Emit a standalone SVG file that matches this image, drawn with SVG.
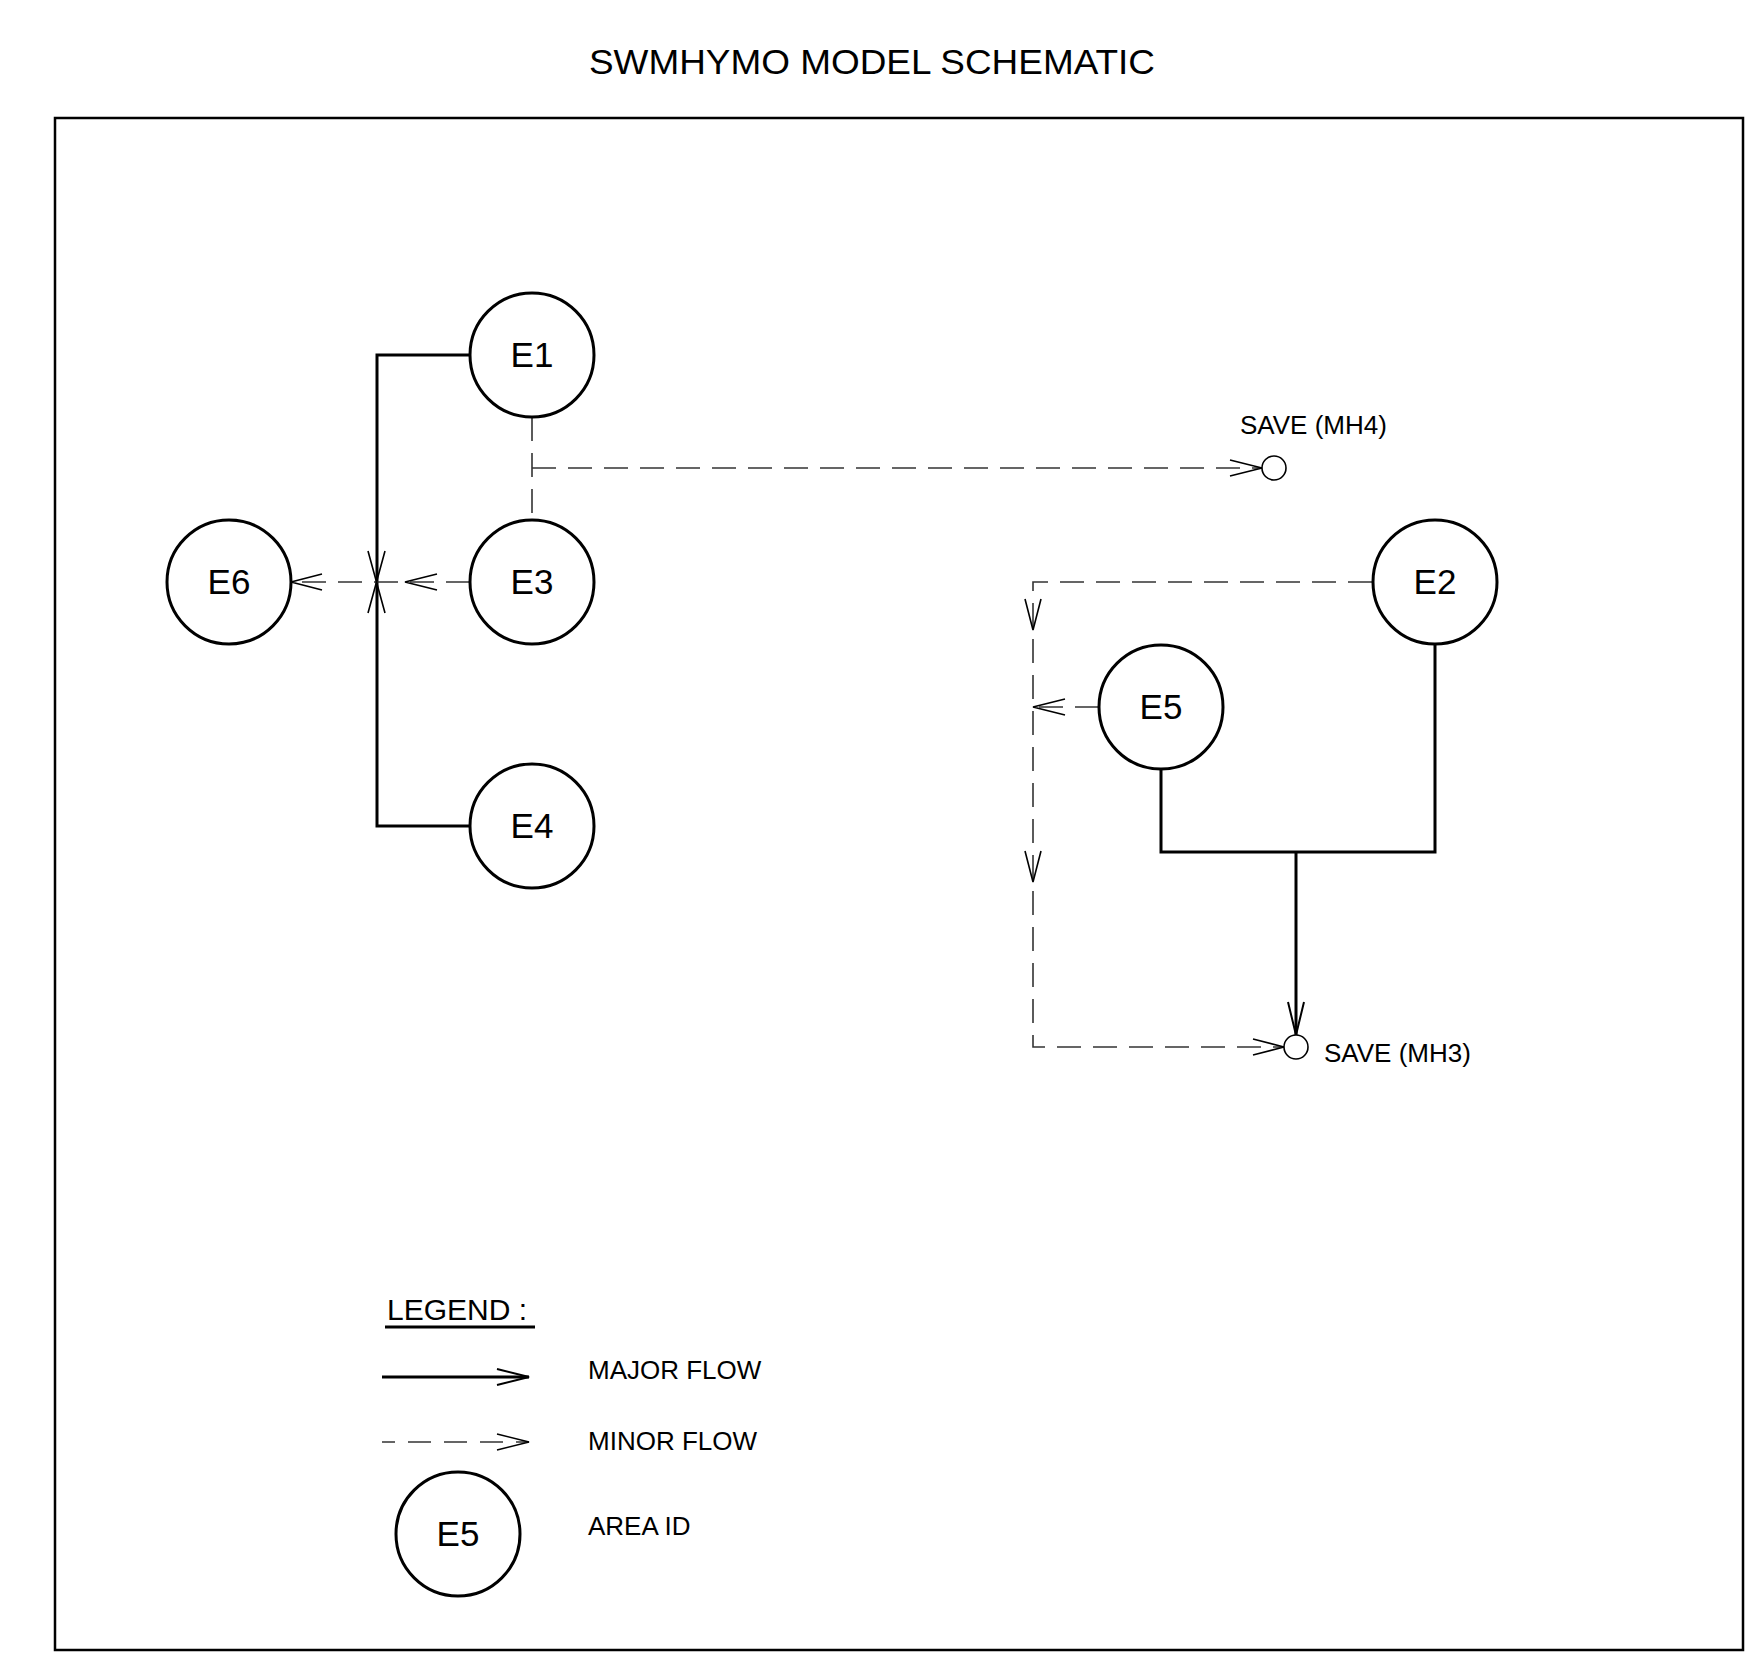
<svg xmlns="http://www.w3.org/2000/svg" width="1752" height="1659" viewBox="0 0 1752 1659">
<style>
text{font-family:"Liberation Sans",Arial,sans-serif;fill:#000}
.node circle{fill:#fff;stroke:#000;stroke-width:3}
.node text{font-size:35px;text-anchor:middle}
.major{fill:none;stroke:#000;stroke-width:3;stroke-linejoin:miter}
.minor{fill:none;stroke:#333;stroke-width:1.6;stroke-dasharray:24 12}
.ah{fill:none;stroke:#000;stroke-width:1.6}
.ahm{fill:none;stroke:#000;stroke-width:2}
.save{fill:#fff;stroke:#000;stroke-width:1.6}
.lbl{font-size:26px}
</style>
<rect width="1752" height="1659" fill="#fff"/>
<text x="589" y="74" font-size="35" textLength="566" lengthAdjust="spacingAndGlyphs">SWMHYMO MODEL SCHEMATIC</text>
<rect x="55" y="118" width="1688" height="1532" fill="none" stroke="#000" stroke-width="2.5"/>

<g id="connectors">
  <!-- major flows -->
  <path class="major" d="M470,355 H377 V826 H470"/>
  <path class="major" d="M1161,769 V852 H1435 V645"/>
  <path class="major" d="M1296,852 V1035"/>
  <path class="ahm" d="M1288,1002 L1296,1035 L1304,1002"/>
  <!-- minor flows -->
  <path class="minor" d="M532,417 V520"/>
  <path class="minor" d="M532,468 H1262"/>
  <path class="ah" d="M1230,460 L1262,468 L1230,476"/>
  <path class="minor" d="M470,582 H291"/>
  <path class="ah" d="M437,574 L405,582 L437,590"/>
  <path class="ah" d="M322,574 L291,582 L322,590"/>
  <path class="ah" d="M368,551 L385,613 M385,551 L368,613"/>
  <path class="minor" d="M1372,582 H1033 V1047 H1284"/>
  <path class="ah" d="M1025,599 L1033,630 L1041,599"/>
  <path class="ah" d="M1025,851 L1033,882 L1041,851"/>
  <path class="ah" d="M1253,1039 L1284,1047 L1253,1055"/>
  <path class="minor" d="M1099,707 H1033"/>
  <path class="ah" d="M1065,699 L1033,707 L1065,715"/>
</g>

<g id="E1" class="node"><circle cx="532" cy="355" r="62"/><text x="532" y="367">E1</text></g>
<g id="E3" class="node"><circle cx="532" cy="582" r="62"/><text x="532" y="594">E3</text></g>
<g id="E4" class="node"><circle cx="532" cy="826" r="62"/><text x="532" y="838">E4</text></g>
<g id="E6" class="node"><circle cx="229" cy="582" r="62"/><text x="229" y="594">E6</text></g>
<g id="E2" class="node"><circle cx="1435" cy="582" r="62"/><text x="1435" y="594">E2</text></g>
<g id="E5" class="node"><circle cx="1161" cy="707" r="62"/><text x="1161" y="719">E5</text></g>

<g id="MH4"><circle class="save" cx="1274" cy="468" r="12"/><text class="lbl" x="1240" y="434">SAVE (MH4)</text></g>
<g id="MH3"><circle class="save" cx="1296" cy="1047" r="12"/><text class="lbl" x="1324" y="1062">SAVE (MH3)</text></g>

<g id="legend">
  <text x="387" y="1320" font-size="30">LEGEND :</text>
  <line x1="385" y1="1327" x2="535" y2="1327" stroke="#000" stroke-width="3"/>
  <line x1="382" y1="1377" x2="529" y2="1377" stroke="#000" stroke-width="3"/>
  <path class="ahm" d="M497,1369 L529,1377 L497,1385"/>
  <text x="588" y="1379" font-size="26">MAJOR FLOW</text>
  <line x1="382" y1="1442" x2="529" y2="1442" stroke="#333" stroke-width="1.6" stroke-dasharray="23 13" stroke-dashoffset="10"/>
  <path class="ah" d="M497,1434 L529,1442 L497,1450"/>
  <text x="588" y="1450" font-size="26">MINOR FLOW</text>
  <g id="legend-E5" class="node"><circle cx="458" cy="1534" r="62"/><text x="458" y="1546">E5</text></g>
  <text x="588" y="1535" font-size="26">AREA ID</text>
</g>
</svg>
